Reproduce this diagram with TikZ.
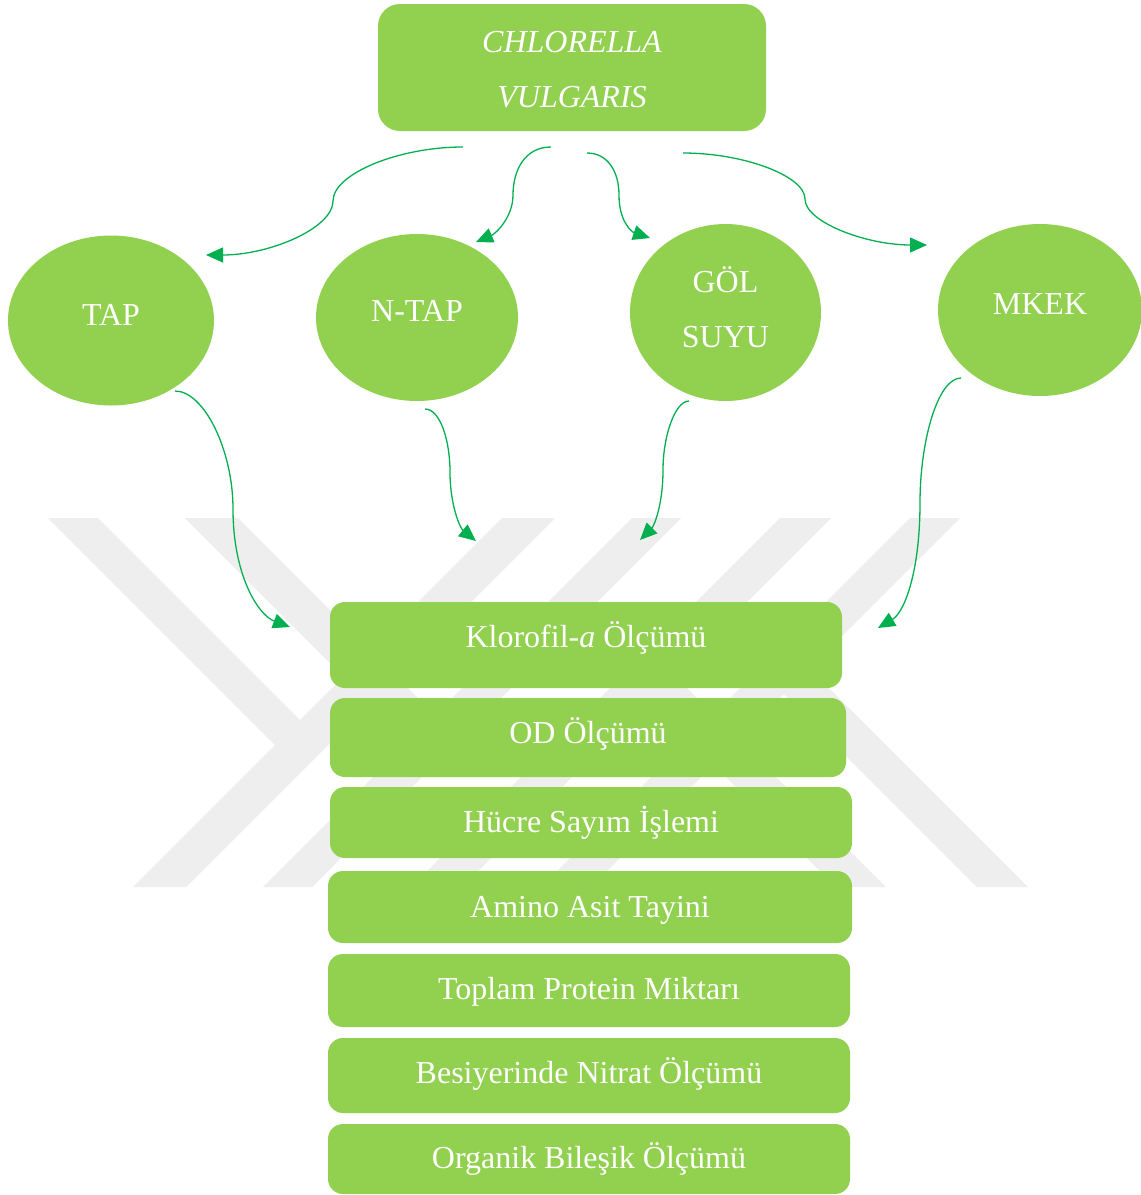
\documentclass[tikz,border=0pt]{standalone}
\usepackage{fontspec}
\setmainfont{Liberation Serif}
\usetikzlibrary{shapes.geometric,arrows.meta}
\definecolor{boxgreen}{HTML}{92D050}
\definecolor{arrgreen}{HTML}{00B050}
\definecolor{wmgray}{HTML}{EEEEEE}
\newcommand\lifttext[2]{\raisebox{#1}[0pt][0pt]{#2}}
\begin{document}
\begin{tikzpicture}[x=1pt,y=-1pt,
  every node/.style={inner sep=0pt,outer sep=0pt,text=white,font=\fontsize{32}{55}\selectfont},
  oval/.style={ellipse,fill=boxgreen},
  stepbox/.style={rectangle,rounded corners=15pt,fill=boxgreen},
  conn/.style={draw=arrgreen,line width=1.3pt,-{Triangle[length=17pt,width=15pt]}},
  wm/.style={fill=wmgray}
]
\fill[white] (0,0) rectangle (1141,1195);
\useasboundingbox (0,0) rectangle (1141,1195);

% faint background watermark
\fill[wm] (48,518)--(98,518)--(300,720)--(275,745)--cycle;
\fill[wm] (133,887)--(186,887)--(555,518)--(502,518)--cycle;
\fill[wm] (185,518)--(238,518)--(435,715)--(408.5,741.5)--cycle;
\fill[wm] (263,887)--(312,887)--(681,518)--(632,518)--cycle;
\fill[wm] (910,518)--(960,518)--(591,887)--(541,887)--cycle;
\fill[wm] (977,887)--(1028,887)--(809.5,668.5)--(784,694)--cycle;
\fill[wm] (780,518)--(831,518)--(462,887)--(411,887)--cycle;
\fill[wm] (836,887)--(886,887)--(674,675)--(649,700)--cycle;

% top box
\node[stepbox,rounded corners=22pt,minimum width=388pt,minimum height=127pt] (top) at (572,67.5)
  {\lifttext{-39.5pt}{\itshape\begin{tabular}[b]{@{}c@{}}CHLORELLA\\VULGARIS\end{tabular}}};

% media ellipses
\node[oval,minimum width=206pt,minimum height=170pt] (tap) at (111,320.5) {\lifttext{-4.5pt}{TAP}};
\node[oval,minimum width=202pt,minimum height=167pt] (ntap) at (417,317.5) {\lifttext{-3.5pt}{N-TAP}};
\node[oval,minimum width=191pt,minimum height=177pt] (gol) at (725.5,312.5)
  {\lifttext{-34.5pt}{\begin{tabular}[b]{@{}c@{}}GÖL\\SUYU\end{tabular}}};
\node[oval,minimum width=204pt,minimum height=172pt] (mkek) at (1040,310) {\lifttext{-4pt}{MKEK}};

% analysis boxes
\node[stepbox,minimum width=512pt,minimum height=86pt] (r1) at (586,645) {\lifttext{-2pt}{Klorofil-\textit{a} Ölçümü}};
\node[stepbox,minimum width=516pt,minimum height=79pt] (r2) at (588,737.5) {\lifttext{-5.5pt}{OD Ölçümü}};
\node[stepbox,minimum width=522pt,minimum height=71pt] (r3) at (591,822.5) {\lifttext{-9.5pt}{Hücre Sayım İşlemi}};
\node[stepbox,minimum width=524pt,minimum height=72pt] (r4) at (590,907) {\lifttext{-10pt}{Amino Asit Tayini}};
\node[stepbox,minimum width=522pt,minimum height=73pt] (r5) at (589,990.5) {\lifttext{-8.5pt}{Toplam Protein Miktarı}};
\node[stepbox,minimum width=522pt,minimum height=75pt] (r6) at (589,1075.5) {\lifttext{-7.5pt}{Besiyerinde Nitrat Ölçümü}};
\node[stepbox,minimum width=522pt,minimum height=70pt] (r7) at (589,1159) {\lifttext{-9pt}{Organik Bileşik Ölçümü}};

% connector end points
\coordinate (a1s) at (463,147);  \coordinate (a1e) at (206,255);
\coordinate (a2s) at (551,147);  \coordinate (a2e) at (476,242);
\coordinate (a3s) at (587,153);  \coordinate (a3e) at (650,238);
\coordinate (a4s) at (683,153);  \coordinate (a4e) at (927,245);
\coordinate (b1s) at (175,391);  \coordinate (b1e) at (290,627);
\coordinate (b2s) at (425,409);  \coordinate (b2e) at (476,541);
\coordinate (b3s) at (689,401);  \coordinate (b3e) at (640,540);
\coordinate (b4s) at (961,378);  \coordinate (b4e) at (878,628);

% connectors from the top box
\draw[conn] (a1s) .. controls (398,147) and (333,174) .. (333,201) .. controls (333,228) and (270,255) .. (a1e);
\draw[conn] (a2s) .. controls (525,147) and (513,170) .. (513,195) .. controls (513,218) and (495,234) .. (a2e);
\draw[conn] (a3s) .. controls (608,153) and (619,172) .. (619,195) .. controls (619,222) and (632,232) .. (a3e);
\draw[conn] (a4s) .. controls (744,153) and (805,176) .. (805,199) .. controls (805,222) and (866,245) .. (a4e);

% connectors to the analysis boxes
\draw[conn] (b1s) .. controls (204,391) and (233,450) .. (233,509) .. controls (233,575) and (258,615) .. (b1e);
\draw[conn] (b2s) .. controls (440,409) and (450,440) .. (450,472) .. controls (450,505) and (460,528) .. (b2e);
\draw[conn] (b3s) .. controls (675,401) and (663,436) .. (663,470) .. controls (663,505) and (654,526) .. (b3e);
\draw[conn] (b4s) .. controls (938,378) and (920,440) .. (920,503) .. controls (920,570) and (905,612) .. (b4e);
\end{tikzpicture}
\end{document}
